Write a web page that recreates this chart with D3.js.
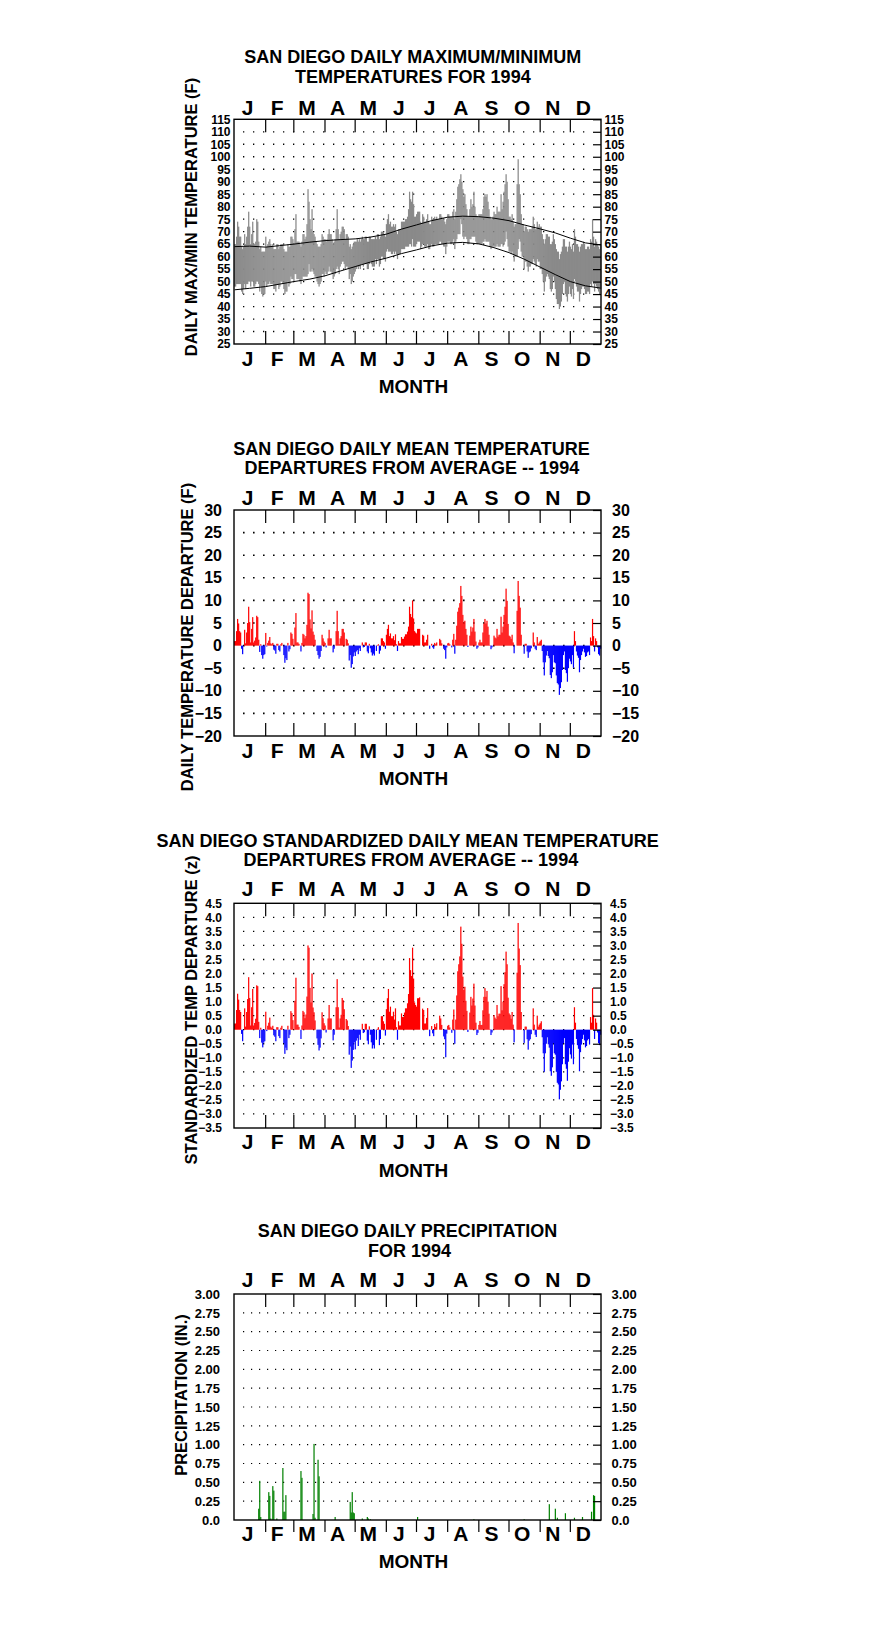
<!DOCTYPE html>
<html><head><meta charset="utf-8">
<script src="https://cdn.jsdelivr.net/npm/d3@7"></script>
<style>
body{margin:0;background:#fff}
svg{display:block}
text{font-family:"Liberation Sans",Arial,sans-serif;font-weight:bold;fill:#000}
</style>
</head><body>
<svg id="c" width="876" height="1634"></svg>
<script>
const months = ["J","F","M","A","M","J","J","A","S","O","N","D"];
const monthLengths = [31,28,31,30,31,30,31,31,30,31,30,31];

const tmax = [
65,65,68,74,72,68,68,64,63,64,69,65,68,72,78,
72,65,69,74,65,65,66,75,74,66,63,64,62,62,62,62,
68,64,65,66,67,65,64,65,63,63,63,65,65,63,
64,65,65,65,63,62,62,62,65,64,64,68,68,67,
65,71,77,66,66,66,65,64,66,69,69,67,68,73,87,82,
75,71,79,70,69,68,66,65,64,64,64,65,69,68,67,
67,66,67,69,71,69,69,67,65,66,67,71,79,71,67,
69,70,72,72,71,67,69,69,68,64,65,63,64,65,66,
66,66,67,66,67,66,67,68,67,67,68,68,66,66,68,
68,67,67,67,67,68,67,69,69,67,68,70,70,70,69,68,
73,75,77,73,74,72,72,73,72,73,70,69,71,71,71,
74,74,74,74,75,75,76,79,86,83,82,86,81,76,76,
77,78,78,78,74,73,77,76,74,74,75,77,74,73,73,
76,75,75,76,75,76,75,75,77,77,76,75,75,74,73,75,
77,77,76,76,76,78,79,75,78,83,88,89,91,93,90,
87,84,85,81,79,76,76,79,83,80,81,86,80,77,76,76,
77,77,77,77,79,84,85,84,85,82,79,76,75,75,76,
78,77,77,80,78,78,78,85,79,82,86,89,93,90,83,
76,76,75,77,74,72,73,73,89,99,89,85,77,73,73,
70,72,72,71,70,71,71,71,72,76,73,71,71,74,72,73,
72,72,69,67,65,67,69,69,68,68,65,65,66,69,67,
65,63,62,62,59,61,62,64,67,67,64,64,62,64,66,
64,63,65,62,71,68,65,65,64,62,64,65,65,66,65,
63,63,64,64,63,67,66,75,68,64,67,66,65,64,63,65];

const tmin = [
48,48,49,49,49,49,49,46,45,47,49,47,49,49,50,
50,48,50,50,48,48,49,50,50,49,46,48,45,44,45,45,
50,48,49,49,50,49,49,49,47,47,46,49,49,47,
48,50,50,49,47,45,46,46,50,48,49,52,51,51,
50,53,53,51,51,51,50,49,51,52,52,52,52,52,53,57,
54,54,55,54,53,52,52,50,49,48,49,50,53,53,52,
54,53,53,54,56,54,54,53,51,52,53,55,56,55,53,
56,57,58,58,57,55,56,56,55,51,53,49,50,52,53,
54,55,56,55,56,55,57,57,56,57,57,57,55,55,57,
58,57,56,56,56,59,57,59,59,56,57,60,60,59,59,58,
62,63,62,62,62,61,61,62,61,62,61,59,61,61,61,
63,63,63,63,64,64,64,64,65,65,64,67,64,64,64,
65,66,66,66,63,64,65,65,64,64,64,65,63,63,64,
65,64,64,65,65,65,65,65,66,66,65,65,64,64,61,64,
66,66,66,65,65,66,67,63,66,67,69,69,69,75,73,
68,67,68,68,67,65,65,67,67,68,68,68,68,66,65,65,
65,65,65,65,66,66,67,66,66,66,66,64,63,64,64,
64,64,64,65,64,64,64,65,65,64,65,66,70,67,64,
62,62,61,62,61,58,60,60,60,63,67,66,62,60,60,
55,58,58,56,54,56,56,57,57,59,58,57,56,59,58,58,
55,55,53,50,46,50,52,53,52,51,47,46,47,52,50,
47,43,41,41,39,40,42,45,49,50,45,44,42,45,48,
45,44,47,43,51,50,48,46,46,42,45,47,48,48,47,
45,45,46,46,45,49,48,50,49,46,49,48,47,46,45,47];

const normalDays = [0,15,31,45,59,75,90,105,120,135,151,166,181,196,212,227,243,258,273,288,304,319,334,349,364];
const normalMax = [64.0,64.2,63.8,64.4,65.0,65.8,66.4,66.8,67.1,67.8,69.0,71.0,72.7,74.4,75.8,76.2,76.0,75.4,74.4,72.7,71.1,69.5,67.4,65.5,64.7];
const normalMin = [46.7,47.3,48.0,49.0,50.0,51.0,52.3,54.2,56.0,57.8,59.4,61.2,62.7,64.3,65.4,65.7,65.1,63.6,61.6,59.0,55.8,52.8,50.0,48.3,47.4];

const departure = [
1.0,1.0,3.2,5.9,4.9,3.2,2.9,-0.7,-1.9,0,3.5,0.5,2.9,5.0,8.6,5.2,0.7,3.7,6.3,0.7,1.1,1.8,6.6,6.3,1.3,-1.4,0.3,-2.1,-2.9,-2.1,-1.9,
2.8,-0.2,0.6,1.1,1.9,0.5,0.3,0.6,-0.9,-1.1,-1.8,0.4,0.4,-1.0,-1.3,0.3,0.6,0,-2.1,-3.8,-2.8,-3.2,0.6,-1.3,-0.8,2.9,2.6,1.5,
0,4.0,7.2,0.7,0.7,0.4,0,-1.3,0.6,2.6,2.4,1.6,2.1,4.6,11.7,11.4,5.8,3.8,7.8,3.1,2.4,1.3,0,-1.2,-2.1,-2.9,-2.5,-1.2,2.4,1.6,0.9,
0.6,-0.4,0,1.6,3.5,1.6,1.6,0,-1.5,-0.7,0,3.2,7.7,3.2,0.3,1.6,2.1,3.7,3.7,2.9,0,1.5,1.3,0.5,-3.3,-2.1,-4.9,-4.1,-2.4,-1.5,
-2.3,-1.3,-1.0,-1.9,-0.6,-1.2,0,0.7,-0.4,-0.3,0.7,0.7,-1.3,-1.7,0.4,-0.6,-1.5,-2.2,-1.8,-2.2,0,-1.2,0.1,0.3,-1.8,-1.1,1.6,1.6,1.0,0.7,-0.7,
2.4,3.7,4.6,2.1,2.7,1.6,1.6,2.1,1.2,2.5,0.3,-1.2,1.0,0.5,0.5,1.9,1.5,1.5,2.0,2.5,2.5,3.1,4.2,8.6,7.0,6.3,10.0,6.0,3.2,2.9,
2.7,3.7,3.7,3.7,0,0,2.4,2.2,0.7,0.7,1.3,2.4,0,-0.7,0,0.4,-0.4,-0.7,0.6,0.3,0.7,0,0,1.5,1.2,0.5,0,-0.7,-1.0,-2.9,-0.4,
0.5,0.6,0.3,0,-0.4,1.3,2.6,-1.8,1.3,4.4,7.5,8.4,9.4,13.2,11.0,6.8,5.1,5.5,3.7,2.4,-0.3,0,2.2,4.2,3.1,4.0,5.9,3.1,0.9,-0.7,-0.4,
0.7,1.3,0.7,0.7,2.9,4.9,5.9,4.9,5.5,4.2,2.4,0.1,-0.8,-0.4,0,2.2,1.8,1.6,3.7,2.0,2.4,2.4,6.4,2.9,4.2,6.8,8.6,12.6,9.9,4.8,
2.2,2.0,1.5,2.4,0.7,-1.7,0,0,7.7,14.3,11.0,8.4,2.4,0,0,-1.8,0.4,0.4,-1.3,-2.7,-1.5,-1.3,-0.6,0,2.9,0.7,-0.7,-1.0,1.9,0.4,0.7,
1.0,1.3,-1.2,-3.7,-6.6,-3.7,-2.2,-1.2,-2.3,-2.8,-6.5,-7.2,-5.9,-2.1,-3.7,-3.9,-6.6,-8.3,-8.6,-10.9,-9.4,-8.1,-5.4,-2.1,-1.3,-5.4,-6.1,-8.0,-5.0,-2.9,
-3.5,-4.1,-2.1,-4.9,3.2,1.0,-1.3,-2.2,-2.7,-5.9,-3.2,-2.1,-1.3,-0.7,-1.5,-2.5,-2.3,-1.5,-1.3,-2.1,1.8,1.0,5.9,2.1,-1.3,1.6,1.0,-0.4,-1.9,-2.2,-0.7];

const zscore = [
0.22,0.22,0.70,1.28,1.07,0.70,0.63,-0.15,-0.41,0,0.76,0.11,0.63,1.09,1.87,1.13,0.15,0.80,1.45,0.15,0.24,0.39,1.58,1.55,0.28,-0.30,0.07,-0.46,-0.63,-0.46,-0.41,
0.64,-0.05,0.14,0.25,0.43,0.11,0.07,0.14,-0.20,-0.25,-0.41,0.09,0.09,-0.23,-0.30,0.07,0.14,0,-0.48,-0.86,-0.64,-0.73,0.14,-0.30,-0.18,0.66,0.59,0.34,
0,1.03,1.85,0.18,0.18,0.10,0,-0.33,0.15,0.67,0.62,0.41,0.54,1.18,3.00,2.92,1.49,0.97,2.00,0.79,0.62,0.33,0,-0.31,-0.54,-0.74,-0.64,-0.31,0.62,0.41,0.23,
0.15,-0.10,0,0.40,0.88,0.40,0.40,0,-0.38,-0.18,0,0.80,1.80,0.80,0.08,0.40,0.53,1.13,1.05,0.73,0,0.38,0.33,0.13,-0.89,-0.60,-1.36,-1.10,-0.72,-0.45,
-0.70,-0.39,-0.30,-0.58,-0.18,-0.36,0,0.21,-0.12,-0.09,0.21,0.21,-0.39,-0.52,0.12,-0.18,-0.45,-0.67,-0.55,-0.67,0,-0.36,0.03,0.09,-0.55,-0.33,0.48,0.48,0.30,0.21,-0.21,
0.73,1.12,1.45,0.64,0.82,0.48,0.48,0.64,0.36,0.76,0.09,-0.36,0.30,0.15,0.15,0.58,0.45,0.45,0.61,0.76,0.76,0.94,1.27,2.55,2.12,1.91,2.92,1.82,0.97,0.88,
0.82,1.12,1.12,1.15,0,0,0.75,0.70,0.22,0.22,0.42,0.77,0,-0.23,0,0.13,-0.13,-0.23,0.20,0.10,0.23,0,0,0.50,0.40,0.17,0,-0.24,-0.34,-0.98,-0.14,
0.14,0.17,0.08,0,-0.11,0.36,0.72,-0.50,0.36,1.22,2.08,2.33,2.61,3.67,3.06,1.89,1.42,1.53,1.03,0.67,-0.08,0,0.61,1.17,0.86,1.11,1.64,0.86,0.25,-0.19,-0.11,
0.17,0.31,0.17,0.17,0.69,1.17,1.48,1.17,1.38,1.00,0.57,0.02,-0.19,-0.10,0,0.52,0.43,0.38,0.88,0.48,0.57,0.57,1.55,0.69,1.00,1.62,2.05,2.78,2.33,1.14,
0.58,0.53,0.39,0.63,0.18,-0.45,0,0,2.03,3.80,2.89,2.30,0.63,0,0,-0.47,0.11,0.11,-0.34,-0.71,-0.39,-0.34,-0.16,0,0.76,0.18,-0.18,-0.26,0.50,0.11,0.18,
0.23,0.30,-0.27,-0.84,-1.50,-0.84,-0.50,-0.27,-0.52,-0.64,-1.48,-1.64,-1.34,-0.48,-0.84,-0.89,-1.50,-1.89,-1.95,-2.48,-2.14,-1.84,-1.23,-0.48,-0.30,-1.23,-1.39,-1.82,-1.14,-0.66,
-0.88,-1.03,-0.53,-1.23,0.80,0.25,-0.33,-0.55,-0.68,-1.48,-0.80,-0.53,-0.33,-0.18,-0.38,-0.63,-0.58,-0.38,-0.33,-0.53,0.45,0.25,1.48,0.53,-0.33,0.40,0.25,-0.10,-0.48,-0.55,-0.18];

const precipDays = [24,25,26,34,35,36,38,39,42,48,49,50,51,66,67,78,79,80,83,84,100,115,116,117,118,119,127,132,133,135,182,238,288,313,319,321,329,338,346,355,357,358];
const precipValues = [0.15,0.52,0.04,0.37,0.32,0.02,0.45,0.39,0.02,0.69,0.11,0.11,0.33,0.65,0.56,0.08,1.01,0.03,0.80,0.58,0.04,0.24,0.10,0.37,0.10,0.09,0.02,0.04,0.02,0.01,0.04,0.01,0.01,0.21,0.15,0.03,0.09,0.03,0.04,0.11,0.33,0.32];

const tempTicks = [25,30,35,40,45,50,55,60,65,70,75,80,85,90,95,100,105,110,115];
const depTicks = [-20,-15,-10,-5,0,5,10,15,20,25,30];
const zTicks = [-3.5,-3.0,-2.5,-2.0,-1.5,-1.0,-0.5,0.0,0.5,1.0,1.5,2.0,2.5,3.0,3.5,4.0,4.5];
const precipTicks = [0,0.25,0.5,0.75,1.0,1.25,1.5,1.75,2.0,2.25,2.5,2.75,3.0];

const svg = d3.select("#c");
const X0 = 234, X1 = 601;
const x = d3.scaleLinear().domain([0,365]).range([X0,X1]);
const boundaries = Array.from(d3.cumsum(monthLengths.slice(0,11)));   // Feb 1 ... Dec 1
const starts = [0].concat(boundaries);
const mids = starts.map((s,i)=> s + monthLengths[i]/2 - 2.5);
const bw = x(1)-x(0);
const FONT = '"Liberation Sans",Arial,sans-serif';

function panel(o){
  const y = d3.scaleLinear().domain(o.domain).range([o.bottom,o.top]);
  const g = svg.append("g");
  // dotted grid
  o.ticks.filter(t=>t>o.domain[0] && t<o.domain[1]).forEach(t=>{
    g.append("line").attr("x1",X0+o.dotStart).attr("x2",X1-8)
      .attr("y1",y(t)).attr("y2",y(t))
      .attr("stroke","#000").attr("stroke-width",o.dotW)
      .attr("stroke-dasharray",o.dotW+" "+(o.dotGap-o.dotW));
  });
  o.draw(g,y);
  // frame
  g.append("rect").attr("x",X0).attr("y",o.top).attr("width",X1-X0).attr("height",o.bottom-o.top)
    .attr("fill","none").attr("stroke","#000").attr("stroke-width",1.4);
  // left labels
  const la = g.append("g").attr("transform",`translate(${X0},0)`)
    .call(d3.axisLeft(y).tickValues(o.ticks).tickSize(0).tickPadding(o.padL).tickFormat(o.fmt));
  la.select(".domain").remove();
  la.selectAll("text").style("font-size",o.fs+"px").style("font-family",FONT).style("font-weight","bold");
  // right labels with inward ticks
  const ra = g.append("g").attr("transform",`translate(${X1},0)`)
    .call(d3.axisRight(y).tickValues(o.ticks).tickSizeInner(-8).tickSizeOuter(0).tickPadding(o.padR).tickFormat(o.fmt));
  ra.select(".domain").remove();
  ra.selectAll("line").attr("stroke","#000").attr("stroke-width",1.2);
  ra.selectAll("text").style("font-size",o.fs+"px").style("font-family",FONT).style("font-weight","bold");
  // month boundary ticks
  const ta = g.append("g").attr("transform",`translate(0,${o.top})`)
    .call(d3.axisTop(x).tickValues(boundaries).tickSizeInner(-13).tickSizeOuter(0).tickFormat(""));
  ta.select(".domain").remove();
  ta.selectAll("line").attr("stroke","#000").attr("stroke-width",1.2);
  const ba = g.append("g").attr("transform",`translate(0,${o.bottom})`)
    .call(d3.axisBottom(x).tickValues(boundaries).tickSizeInner(o.bottomTick).tickSizeOuter(0).tickFormat(""));
  ba.select(".domain").remove();
  ba.selectAll("line").attr("stroke","#000").attr("stroke-width",1.2);
  // month letters
  const mt = g.append("g").attr("transform",`translate(0,${o.top})`)
    .call(d3.axisTop(x).tickValues(mids).tickSize(0).tickFormat((d,i)=>months[i]));
  mt.select(".domain").remove();
  mt.selectAll("text").attr("y",o.topLetter-o.top).attr("dy",null)
    .style("font-size","21px").style("font-family",FONT).style("font-weight","bold");
  const mb = g.append("g").attr("transform",`translate(0,${o.bottom})`)
    .call(d3.axisBottom(x).tickValues(mids).tickSize(0).tickFormat((d,i)=>months[i]));
  mb.select(".domain").remove();
  mb.selectAll("text").attr("y",o.botLetter-o.bottom).attr("dy",null)
    .style("font-size","21px").style("font-family",FONT).style("font-weight","bold");
  // MONTH
  g.append("text").attr("x",413.5).attr("y",o.monthY).attr("text-anchor","middle")
    .style("font-size","19px").text("MONTH");
  // titles
  o.title.forEach((t,i)=>{
    g.append("text").attr("x",o.titleX[i]).attr("y",o.titleY[i]).attr("text-anchor","middle")
      .style("font-size","18px").text(t);
  });
  // y title
  g.append("text").attr("transform",`translate(${o.ytX},${o.ytY}) rotate(-90)`)
    .attr("text-anchor","middle").style("font-size","16.5px").text(o.ytitle);
}

// Panel 1: max/min temperatures
panel({
  top:119.3,bottom:344,domain:[25,115],ticks:tempTicks,fmt:d3.format("d"),fs:12,padL:3.5,padR:3.5,
  dotStart:9,dotW:1.3,dotGap:10,bottomTick:-13,topLetter:115,botLetter:366,monthY:393,
  title:["SAN DIEGO DAILY MAXIMUM/MINIMUM","TEMPERATURES FOR 1994"],titleX:[412.7,412.8],titleY:[62.7,82.7],
  ytitle:"DAILY MAX/MIN TEMPERATURE (F)",ytX:197,ytY:217,
  draw:(g,y)=>{
    g.selectAll(null).data(tmax).join("rect")
      .attr("x",(d,i)=>x(i)).attr("width",bw+0.25)
      .attr("y",d=>y(d)).attr("height",(d,i)=>y(tmin[i])-y(d))
      .attr("fill","#8a8a8a");
    const ln = d3.line().x((d,i)=>x(normalDays[i]+0.5)).y(d=>y(d));
    g.append("path").attr("d",ln(normalMax)).attr("fill","none").attr("stroke","#000").attr("stroke-width",1);
    g.append("path").attr("d",ln(normalMin)).attr("fill","none").attr("stroke","#000").attr("stroke-width",1);
  }
});

// Panel 2: departures
panel({
  top:510,bottom:736,domain:[-20,30],ticks:depTicks,fmt:d3.format("d"),fs:16,padL:12,padR:11,
  dotStart:9,dotW:1.6,dotGap:10,bottomTick:-13,topLetter:505,botLetter:758.3,monthY:785,
  title:["SAN DIEGO DAILY MEAN TEMPERATURE","DEPARTURES FROM AVERAGE -- 1994"],titleX:[411.5,411.8],titleY:[455,474.3],
  ytitle:"DAILY TEMPERATURE DEPARTURE (F)",ytX:193,ytY:637,
  draw:(g,y)=>{
    g.selectAll(null).data(departure).join("rect")
      .attr("x",(d,i)=>x(i)).attr("width",bw+0.2)
      .attr("y",d=>Math.min(y(d),y(0))).attr("height",d=>Math.abs(y(d)-y(0)))
      .attr("fill",d=>d>=0?"#ff0000":"#0000ff");
  }
});

// Panel 3: standardized departures
panel({
  top:903.3,bottom:1128,domain:[-3.5,4.5],ticks:zTicks,fmt:d3.format(".1f"),fs:12,padL:12,padR:9,
  dotStart:9,dotW:1.3,dotGap:10,bottomTick:-13,topLetter:896,botLetter:1149,monthY:1176.7,
  title:["SAN DIEGO STANDARDIZED DAILY MEAN TEMPERATURE","DEPARTURES FROM AVERAGE -- 1994"],titleX:[407.7,410.8],titleY:[846.7,866],
  ytitle:"STANDARDIZED TEMP DEPARTURE (z)",ytX:197,ytY:1010,
  draw:(g,y)=>{
    g.selectAll(null).data(zscore).join("rect")
      .attr("x",(d,i)=>x(i)).attr("width",bw+0.2)
      .attr("y",d=>Math.min(y(d),y(0))).attr("height",d=>Math.abs(y(d)-y(0)))
      .attr("fill",d=>d>=0?"#ff0000":"#0000ff");
  }
});

// Panel 4: precipitation
panel({
  top:1294,bottom:1520,domain:[0,3],ticks:precipTicks,fmt:d=>d===0?"0.0":d3.format(".2f")(d),fs:13,padL:14,padR:10.5,
  dotStart:9,dotW:1.2,dotGap:8,bottomTick:12,topLetter:1286.7,botLetter:1540.7,monthY:1567.7,
  title:["SAN DIEGO DAILY PRECIPITATION","FOR 1994"],titleX:[407.5,409.5],titleY:[1237.3,1256.7],
  ytitle:"PRECIPITATION (IN.)",ytX:187,ytY:1395,
  draw:(g,y)=>{
    g.selectAll(null).data(precipValues).join("rect")
      .attr("x",(d,i)=>x(precipDays[i])).attr("width",1.2)
      .attr("y",d=>y(d)).attr("height",d=>y(0)-y(d))
      .attr("fill","#008000");
  }
});
</script>
</body></html>
